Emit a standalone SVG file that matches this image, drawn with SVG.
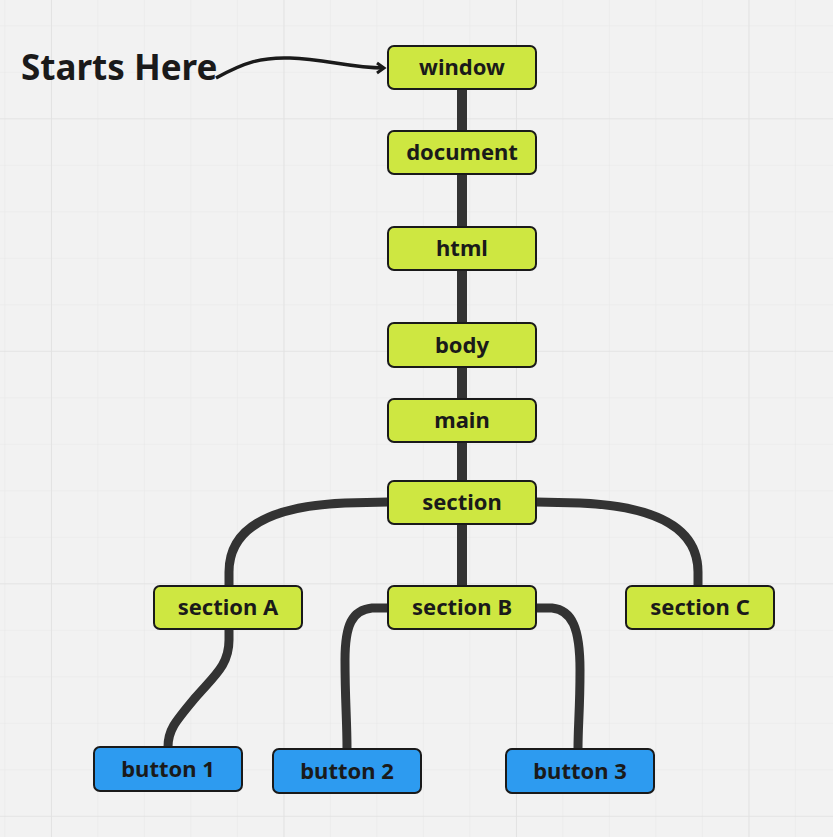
<svg xmlns="http://www.w3.org/2000/svg" width="833" height="837" viewBox="0 0 833 837">
<defs>
<pattern id="minor" x="4.4" y="25.3" width="46.5" height="46.5" patternUnits="userSpaceOnUse">
<path d="M0,0 H46.5 M0,0 V46.5" stroke="#e8e8e8" stroke-width="1.2" fill="none"/>
</pattern>
<pattern id="major" x="51" y="118.3" width="232.5" height="232.5" patternUnits="userSpaceOnUse">
<path d="M0,0 H232.5 M0,0 V232.5" stroke="#e2e2e2" stroke-width="1.6" fill="none"/>
</pattern>
<marker id="arr" markerWidth="14" markerHeight="14" refX="10" refY="7" orient="auto" markerUnits="userSpaceOnUse">
<path d="M3,2 L10,7 L3,12" fill="none" stroke="#1a1a1a" stroke-width="3" stroke-linejoin="miter"/>
</marker>
</defs>
<style>
.n rect{fill:#cee741;stroke:#1a1a1a;stroke-width:2}
.b rect{fill:#2d9bf0;stroke:#1a1a1a;stroke-width:2}
.n text,.b text{font-family:"Noto Sans","Open Sans",sans-serif;font-weight:bold;font-size:22px;fill:#1a1a1a;text-anchor:middle;dominant-baseline:central}
.c{fill:none;stroke:#333333;stroke-width:10}
.cv{fill:none;stroke:#333333;stroke-width:9;stroke-linecap:butt}
</style>
<rect width="833" height="837" fill="#f2f2f2"/>
<rect width="833" height="837" fill="url(#minor)"/>
<rect width="833" height="837" fill="url(#major)"/>
<g id="connectors">
<path class="c" d="M462,89 V131 M462,174 V227 M462,270 V323 M462,367 V399 M462,442 V481 M462,524 V586"/>
<path class="cv" d="M388,502 L345,503 C275,506 229,525 229,572 L229,586"/>
<path class="cv" d="M536,502 L580,503 C650,506 698,525 698,572 L698,586"/>
<path class="cv" d="M388,608 L372,608 C352,610 345,625 345,660 C345,700 347,720 347,749"/>
<path class="cv" d="M536,608 L552,608 C572,610 580,628 580,670 C580,710 578,725 578,749"/>
<path class="cv" d="M229,629 V640 C229,665 215,675 195,698 C175,722 168,730 168,747"/>
<path d="M216,78 C245,62 262,57 290,58 C325,59 350,68 384,68" fill="none" stroke="#1a1a1a" stroke-width="3.5" marker-end="url(#arr)"/>
</g>
<text x="21" y="80" font-family="'Noto Sans','Open Sans',sans-serif" font-weight="bold" font-size="35" fill="#1a1a1a">Starts Here</text>
<g id="window" class="n"><rect x="388" y="46" width="148" height="43" rx="6"/><text x="462" y="66">window</text></g>
<g id="document" class="n"><rect x="388" y="131" width="148" height="43" rx="6"/><text x="462" y="151">document</text></g>
<g id="html" class="n"><rect x="388" y="227" width="148" height="43" rx="6"/><text x="462" y="247">html</text></g>
<g id="body" class="n"><rect x="388" y="323" width="148" height="44" rx="6"/><text x="462" y="343.5">body</text></g>
<g id="main" class="n"><rect x="388" y="399" width="148" height="43" rx="6"/><text x="462" y="419">main</text></g>
<g id="section" class="n"><rect x="388" y="481" width="148" height="43" rx="6"/><text x="462" y="501">section</text></g>
<g id="sectionA" class="n"><rect x="154" y="586" width="148" height="43" rx="6"/><text x="228" y="606">section A</text></g>
<g id="sectionB" class="n"><rect x="388" y="586" width="148" height="43" rx="6"/><text x="462" y="606">section B</text></g>
<g id="sectionC" class="n"><rect x="626" y="586" width="148" height="43" rx="6"/><text x="700" y="606">section C</text></g>
<g id="button1" class="b"><rect x="94" y="747" width="148" height="44" rx="6"/><text x="168" y="767.5">button 1</text></g>
<g id="button2" class="b"><rect x="273" y="749" width="148" height="44" rx="6"/><text x="347" y="769.5">button 2</text></g>
<g id="button3" class="b"><rect x="506" y="749" width="148" height="44" rx="6"/><text x="580" y="769.5">button 3</text></g>
</svg>
